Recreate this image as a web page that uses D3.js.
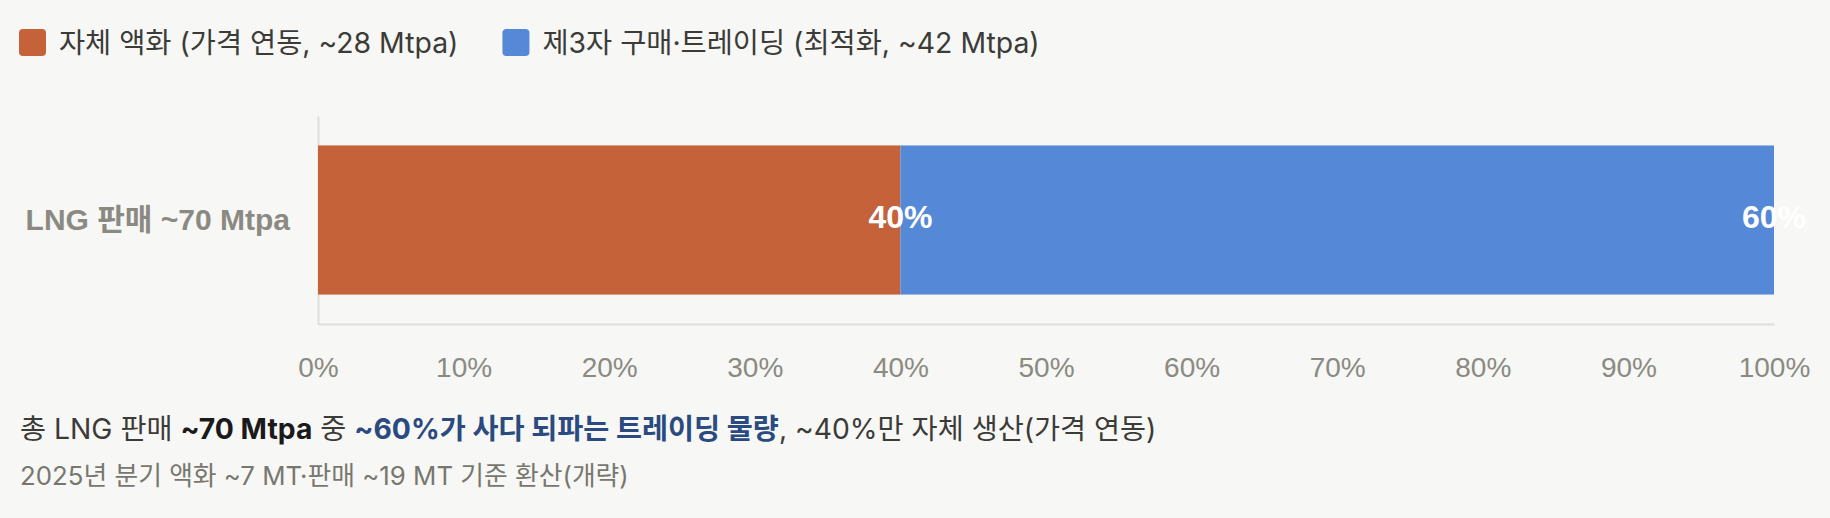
<!DOCTYPE html>
<html>
<head>
<meta charset="utf-8">
<script src="https://cdn.jsdelivr.net/npm/d3@7"></script>
<style>
  body { margin: 0; background: #f7f7f5; }
  svg { display: block; }
</style>
</head>
<body>
<div id="chart"></div>
<script>
// data
var categories = ["LNG 판매 ~70 Mtpa"];
var seriesKeys = ["own", "trade"];
var seriesNames = ["자체 액화 (가격 연동, ~28 Mtpa)", "제3자 구매·트레이딩 (최적화, ~42 Mtpa)"];
var ownShare = [0.40];
var tradeShare = [0.60];
var xTicks = [0, 0.1, 0.2, 0.3, 0.4, 0.5, 0.6, 0.7, 0.8, 0.9, 1.0];
var seriesColors = ["#c5623a", "#5588d6"];

var W = 1830, H = 518;
var margin = {left: 318, right: 56, top: 116, bottom: 194};

var svg = d3.select("#chart").append("svg")
    .attr("width", W).attr("height", H)
    .style("background", "#f7f7f5");

var rows = categories.map(function (c, i) {
    return {cat: c, own: ownShare[i], trade: tradeShare[i]};
});
var stacked = d3.stack().keys(seriesKeys)(rows);

var x = d3.scaleLinear().domain([0, 1]).range([margin.left, W - margin.right]);
var y = d3.scaleBand().domain(categories)
    .range([margin.top, H - margin.bottom]).paddingInner(0.2).paddingOuter(0.158);
var color = d3.scaleOrdinal().domain(seriesKeys).range(seriesColors);

// legend
var legend = svg.append("g").attr("font-family", "Inter, 'Noto Sans CJK KR', sans-serif")
    .attr("font-size", 28.4).attr("fill", "#3b3b38");
var lx = 19;
seriesKeys.forEach(function (k, i) {
    var g = legend.append("g").attr("transform", "translate(" + lx + ",29)");
    g.append("rect").attr("width", 27).attr("height", 27).attr("rx", 4).attr("fill", color(k));
    var t = g.append("text").attr("x", 40).attr("y", 24).text(seriesNames[i]);
    lx += 40 + t.node().getComputedTextLength() + 44;
});

// axes
var xAxis = svg.append("g").attr("transform", "translate(0," + (H - margin.bottom) + ")")
    .call(d3.axisBottom(x).tickValues(xTicks).tickFormat(d3.format(".0%")).tickSize(0).tickSizeOuter(0).tickPadding(33));
xAxis.select(".domain").attr("stroke", "#dededb").attr("stroke-width", 2);
xAxis.selectAll("text").attr("font-family", "'Liberation Sans', Arial, sans-serif")
    .attr("font-size", 28).attr("fill", "#8a8a82");

var yAxis = svg.append("g").attr("transform", "translate(" + margin.left + ",0)")
    .call(d3.axisLeft(y).tickSize(0).tickSizeOuter(0).tickPadding(28));
yAxis.select(".domain").attr("stroke", "#dededb").attr("stroke-width", 2);
yAxis.selectAll("text").attr("font-family", "'Liberation Sans', Arial, 'Noto Sans CJK KR', sans-serif")
    .attr("font-size", 30).attr("font-weight", "bold").attr("fill", "#8a8a82");

// bars
var layers = svg.append("g").selectAll("g").data(stacked).join("g")
    .attr("fill", function (d) { return color(d.key); });
layers.selectAll("rect").data(function (d) { return d; }).join("rect")
    .attr("x", function (d) { return x(d[0]); })
    .attr("y", function (d) { return y(d.data.cat); })
    .attr("width", function (d) { return x(d[1]) - x(d[0]); })
    .attr("height", y.bandwidth());

// value labels at the end of each segment, drawn above all bars
var labels = svg.append("g").selectAll("g").data(stacked).join("g");
labels.selectAll("text").data(function (d) { return d; }).join("text")
    .attr("x", function (d) { return x(d[1]); })
    .attr("y", function (d) { return y(d.data.cat) + y.bandwidth() / 2 + 8; })
    .attr("text-anchor", "middle")
    .attr("font-family", "'Liberation Sans', Arial, sans-serif")
    .attr("font-size", 32).attr("font-weight", "bold").attr("fill", "#ffffff")
    .text(function (d) { return d3.format(".0%")(d[1] - d[0]); });

// notes
var note = svg.append("text").attr("x", 20).attr("y", 439)
    .attr("font-family", "Inter, 'Noto Sans CJK KR', sans-serif")
    .attr("font-size", 28.3).attr("fill", "#3b3b38");
note.append("tspan").text("총 LNG 판매 ");
note.append("tspan").attr("font-weight", "bold").attr("fill", "#1a1a1a").text("~70 Mtpa");
note.append("tspan").text(" 중 ");
note.append("tspan").attr("font-weight", "bold").attr("fill", "#2a4a80").text("~60%가 사다 되파는 트레이딩 물량");
note.append("tspan").text(", ~40%만 자체 생산(가격 연동)");

svg.append("text").attr("x", 20).attr("y", 485)
    .attr("font-family", "Inter, 'Noto Sans CJK KR', sans-serif")
    .attr("font-size", 25.8).attr("fill", "#77776f")
    .text("2025년 분기 액화 ~7 MT·판매 ~19 MT 기준 환산(개략)");
</script>
</body>
</html>
